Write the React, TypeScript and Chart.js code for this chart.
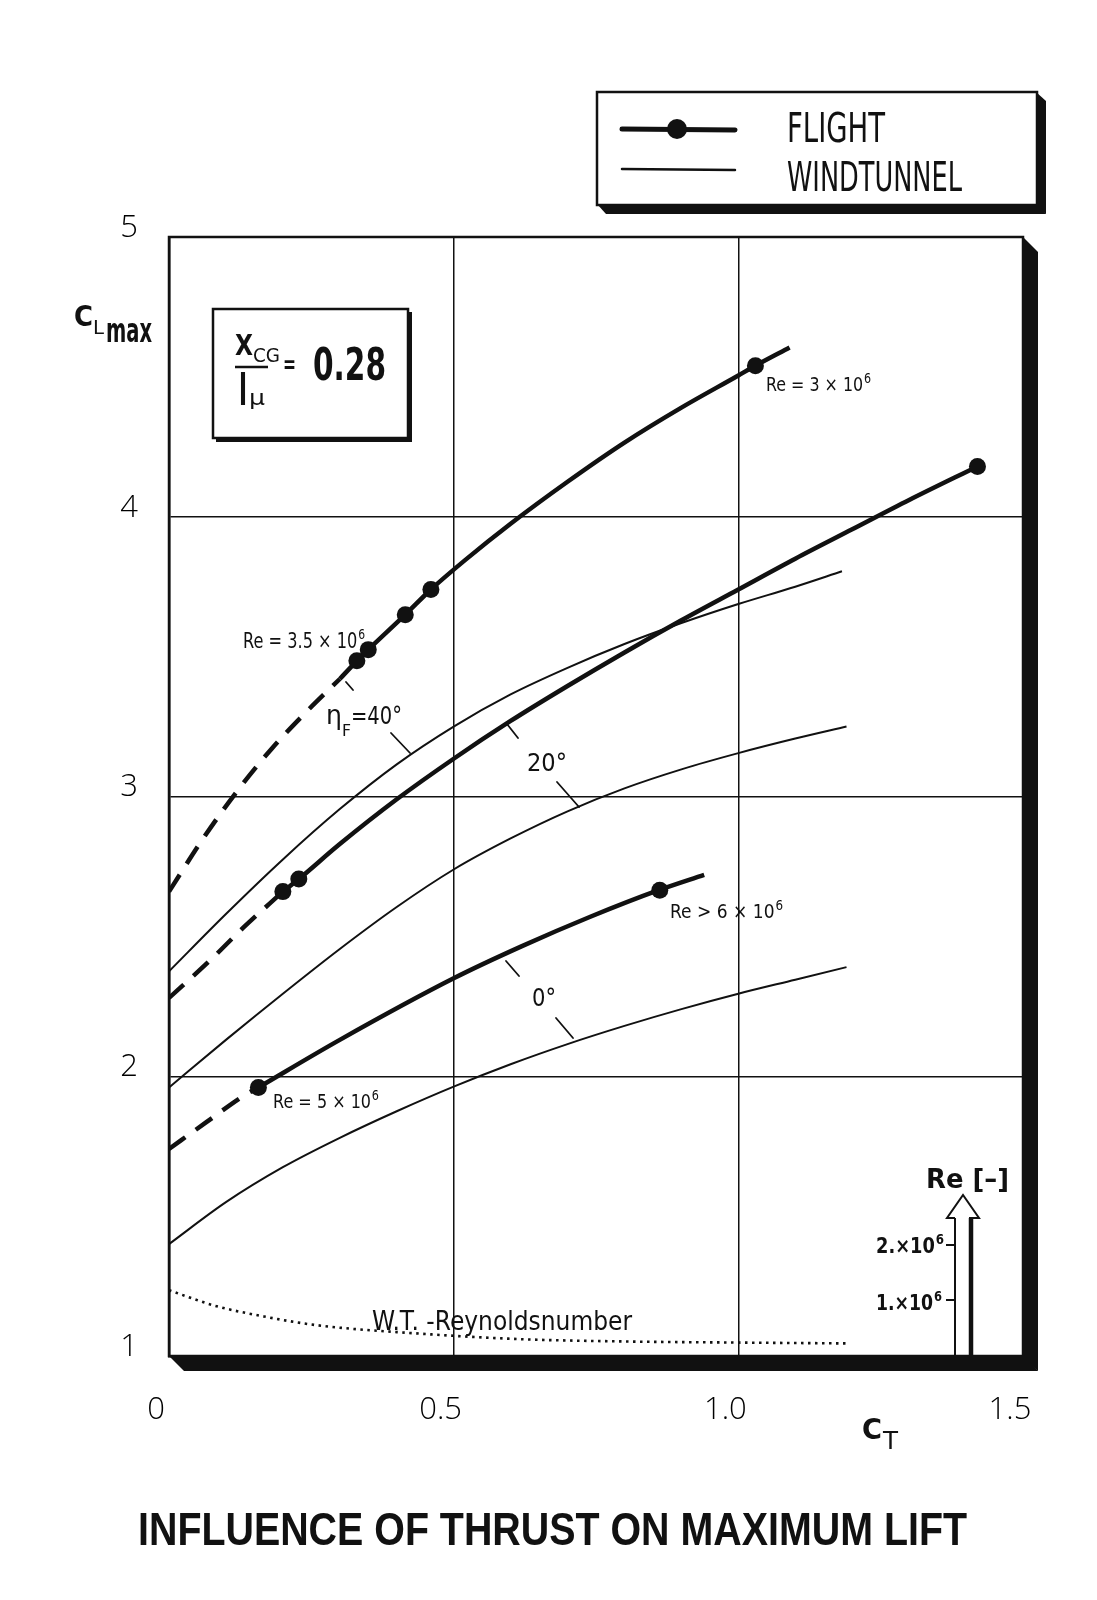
import React, { useEffect, useRef } from 'react';
import { Chart, registerables } from 'chart.js';

Chart.register(...registerables);

// ---------- data ----------
const X_TICKS = [0, 0.5, 1.0, 1.5];
const X_TICK_LABELS = ['0', '0.5', '1.0', '1.5'];
const Y_TICKS = [1, 2, 3, 4, 5];
const Y_TICK_LABELS = ['1', '2', '3', '4', '5'];

// Flight, Re = 3.5e6 -> 3e6 (upper)
const FA_DASH_CT = [0, 0.06, 0.12, 0.18, 0.24, 0.3];
const FA_DASH_CL = [2.66, 2.85, 3.02, 3.17, 3.3, 3.42];
const FA_CT = [0.3, 0.33, 0.35, 0.415, 0.46, 0.52, 0.6, 0.7, 0.8, 0.9, 1.0, 1.03, 1.09];
const FA_CL = [3.42, 3.485, 3.525, 3.65, 3.74, 3.845, 3.975, 4.125, 4.265, 4.39, 4.505, 4.54, 4.605];
const FA_MARK_CT = [0.33, 0.35, 0.415, 0.46, 1.03];
const FA_MARK_CL = [3.485, 3.525, 3.65, 3.74, 4.54];

// Flight (middle, eta_F = 20 deg)
const FB_DASH_CT = [0, 0.07, 0.13, 0.2];
const FB_DASH_CL = [2.28, 2.41, 2.53, 2.66];
const FB_CT = [0.2, 0.228, 0.3, 0.4, 0.5, 0.6, 0.7, 0.8, 0.9, 1.0, 1.1, 1.2, 1.3, 1.42];
const FB_CL = [2.66, 2.705, 2.83, 2.99, 3.135, 3.27, 3.395, 3.515, 3.63, 3.74, 3.85, 3.955, 4.06, 4.18];
const FB_MARK_CT = [0.2, 0.228, 1.42];
const FB_MARK_CL = [2.66, 2.705, 4.18];

// Flight, Re = 5e6 -> >6e6 (lower, eta_F = 0 deg)
const FC_DASH_CT = [0, 0.065, 0.131, 0.157];
const FC_DASH_CL = [1.74, 1.835, 1.93, 1.96];
const FC_CT = [0.157, 0.3, 0.5, 0.62, 0.74, 0.86, 0.94];
const FC_CL = [1.96, 2.13, 2.35, 2.465, 2.57, 2.665, 2.72];
const FC_MARK_CT = [0.157, 0.862];
const FC_MARK_CL = [1.96, 2.665];

// Wind tunnel curves
const WT40_CT = [0, 0.1, 0.2, 0.3, 0.4, 0.5, 0.6, 0.7, 0.8, 0.9, 1.0, 1.1, 1.182];
const WT40_CL = [2.375, 2.58, 2.775, 2.955, 3.115, 3.25, 3.365, 3.46, 3.545, 3.62, 3.688, 3.75, 3.805];
const WT20_CT = [0, 0.1, 0.2, 0.3, 0.4, 0.5, 0.6, 0.7, 0.8, 0.9, 1.0, 1.1, 1.19];
const WT20_CL = [1.96, 2.13, 2.295, 2.455, 2.605, 2.739, 2.85, 2.947, 3.029, 3.097, 3.155, 3.207, 3.25];
const WT0_CT = [0, 0.1, 0.2, 0.3, 0.4, 0.5, 0.6, 0.7, 0.8, 0.9, 1.0, 1.1, 1.19];
const WT0_CL = [1.4, 1.55, 1.675, 1.78, 1.875, 1.963, 2.043, 2.115, 2.18, 2.24, 2.295, 2.345, 2.39];

// W.T. Reynolds number (dotted)
const WTRE_CT = [0, 0.08, 0.17, 0.26, 0.44, 0.62, 0.8, 1.0, 1.19];
const WTRE_CL = [1.235, 1.18, 1.14, 1.11, 1.08, 1.06, 1.052, 1.048, 1.045];

const TITLE = 'INFLUENCE OF THRUST ON MAXIMUM LIFT';
const LEGEND_LABELS = ['FLIGHT', 'WINDTUNNEL'];

// ---------- helpers ----------
const pts = (xs: number[], ys: number[]) => xs.map((x, i) => ({ x, y: ys[i] }));

const SANS = "'DejaVu Sans', 'Liberation Sans', sans-serif";
const ARIAL = "'Liberation Sans', 'DejaVu Sans', sans-serif";

function fitText(ctx: CanvasRenderingContext2D, text: string, x: number, y: number, font: string, width: number) {
  ctx.save();
  ctx.font = font;
  ctx.textBaseline = 'alphabetic';
  ctx.textAlign = 'left';
  const w = ctx.measureText(text).width || 1;
  ctx.translate(x, y);
  ctx.scale(width / w, 1);
  ctx.fillStyle = '#111';
  ctx.fillText(text, 0, 0);
  ctx.restore();
}

function supText(ctx: CanvasRenderingContext2D, main: string, sup: string, x: number, y: number,
  size: number, width: number, weight = 'normal') {
  ctx.save();
  const f1 = `${weight} ${size}px ${SANS}`;
  const f2 = `${weight} ${Math.round(size * 0.68)}px ${SANS}`;
  ctx.font = f1;
  const wm = ctx.measureText(main).width;
  ctx.font = f2;
  const ws = ctx.measureText(sup).width;
  const gap = size * 0.05;
  const s = width / (wm + gap + ws);
  ctx.translate(x, y);
  ctx.scale(s, 1);
  ctx.fillStyle = '#111';
  ctx.textBaseline = 'alphabetic';
  ctx.font = f1;
  ctx.fillText(main, 0, 0);
  ctx.font = f2;
  ctx.fillText(sup, wm + gap, -size * 0.42);
  ctx.restore();
}

// design chart area (pixels) used to place annotations relative to the plot
const D = { left: 169, top: 237, right: 1023, bottom: 1356 };

const decorPlugin = {
  id: 'decor',
  beforeDraw(chart: any) {
    const ctx = chart.ctx as CanvasRenderingContext2D;
    ctx.save();
    ctx.fillStyle = '#fff';
    ctx.fillRect(0, 0, chart.width, chart.height);
    ctx.restore();
  },
  afterDraw(chart: any) {
    const ctx = chart.ctx as CanvasRenderingContext2D;
    const ca = chart.chartArea;
    const sx = (ca.right - ca.left) / (D.right - D.left);
    const sy = (ca.bottom - ca.top) / (D.bottom - D.top);
    const PX = (x: number) => ca.left + (x - D.left) * sx;
    const PY = (y: number) => ca.top + (y - D.top) * sy;
    const line = (x1: number, y1: number, x2: number, y2: number, w: number) => {
      ctx.beginPath();
      ctx.lineWidth = w;
      ctx.moveTo(PX(x1), PY(y1));
      ctx.lineTo(PX(x2), PY(y2));
      ctx.stroke();
    };
    ctx.save();
    ctx.strokeStyle = '#111';
    ctx.fillStyle = '#111';
    ctx.lineCap = 'butt';

    // ---- plot frame with 3D shadow ----
    const L = ca.left, T = ca.top, R = ca.right, B = ca.bottom, sh = 15;
    ctx.lineWidth = 2.5;
    ctx.strokeRect(L, T, R - L, B - T);
    ctx.beginPath();
    ctx.moveTo(R - 1, T - 1); ctx.lineTo(R + sh, T + sh); ctx.lineTo(R + sh, B + sh); ctx.lineTo(R - 1, B + 1);
    ctx.closePath(); ctx.fill();
    ctx.beginPath();
    ctx.moveTo(L - 1, B - 1); ctx.lineTo(L + sh, B + sh); ctx.lineTo(R + sh, B + sh); ctx.lineTo(R + 1, B - 1);
    ctx.closePath(); ctx.fill();

    // ---- leader lines ----
    ctx.lineCap = 'round';
    line(391, 733, 410, 753, 1.8);
    line(346, 682, 353, 690, 1.8);
    line(507, 724, 518, 738, 1.8);
    line(557, 782, 579, 807, 1.8);
    line(506, 961, 519, 976, 1.8);
    line(556, 1018, 573, 1038, 1.8);

    // ---- curve annotations ----
    supText(ctx, 'Re = 3.5 × 10', '6', PX(243), PY(648), 21, 122);
    supText(ctx, 'Re = 3 × 10', '6', PX(766), PY(391), 20, 105);
    supText(ctx, 'Re > 6 × 10', '6', PX(670), PY(918), 20, 113);
    supText(ctx, 'Re = 5 × 10', '6', PX(273), PY(1108), 20, 106);
    fitText(ctx, 'η', PX(326), PY(724), `normal 27px ${SANS}`, 16);
    fitText(ctx, 'F', PX(342), PY(736), `normal 16px ${SANS}`, 9);
    fitText(ctx, '=40°', PX(351), PY(724), `normal 24px ${SANS}`, 51);
    fitText(ctx, '20°', PX(527), PY(771), `normal 25px ${SANS}`, 40);
    fitText(ctx, '0°', PX(532), PY(1006), `normal 25px ${SANS}`, 24);
    fitText(ctx, 'W.T. -Reynoldsnumber', PX(372), PY(1330), `normal 26px ${SANS}`, 260);

    // ---- Re axis (arrow) ----
    ctx.lineCap = 'butt';
    line(955, 1356, 955, 1218, 2);
    line(971, 1356, 971, 1218, 4.5);
    ctx.beginPath();
    ctx.lineWidth = 2;
    ctx.lineJoin = 'miter';
    ctx.moveTo(PX(955), PY(1218));
    ctx.lineTo(PX(947), PY(1218));
    ctx.lineTo(PX(963), PY(1195));
    ctx.lineTo(PX(979), PY(1218));
    ctx.lineTo(PX(969), PY(1218));
    ctx.stroke();
    line(946, 1245, 955, 1245, 2);
    line(946, 1300, 955, 1300, 2);
    supText(ctx, '2.×10', '6', PX(876), PY(1253), 21, 68, 'bold');
    supText(ctx, '1.×10', '6', PX(876), PY(1310), 21, 66, 'bold');
    fitText(ctx, 'Re [–]', PX(926), PY(1188), `bold 27px ${SANS}`, 83);

    // ---- X_CG / l_mu box ----
    const bx1 = PX(213), by1 = PY(309), bx2 = PX(408), by2 = PY(438);
    ctx.fillStyle = '#fff';
    ctx.fillRect(bx1, by1, bx2 - bx1, by2 - by1);
    ctx.fillStyle = '#111';
    ctx.lineWidth = 2.5;
    ctx.strokeRect(bx1, by1, bx2 - bx1, by2 - by1);
    ctx.fillRect(bx2, by1 + 3, 4, by2 - by1 + 1);
    ctx.fillRect(bx1 + 3, by2, bx2 - bx1 + 1, 4);
    fitText(ctx, 'X', PX(235), PY(355), `bold 28px ${SANS}`, 18);
    fitText(ctx, 'CG', PX(253), PY(362), `normal 20px ${SANS}`, 27);
    line(235, 367, 268, 367, 2.5);
    fitText(ctx, 'l', PX(239), PY(405), `bold 42px ${SANS}`, 8);
    fitText(ctx, 'μ', PX(249), PY(405), `normal 22px ${SANS}`, 16);
    fitText(ctx, '=', PX(283), PY(373), `bold 24px ${SANS}`, 13);
    fitText(ctx, '0.28', PX(313), PY(380), `bold 44px ${SANS}`, 73);

    // ---- axis titles ----
    fitText(ctx, 'C', 74, 326, `bold 29px ${SANS}`, 19);
    fitText(ctx, 'L', 93, 334, `normal 19px ${SANS}`, 11);
    fitText(ctx, 'max', 106, 342, `bold 34px ${SANS}`, 46);
    fitText(ctx, 'C', 862, 1439, `bold 29px ${SANS}`, 20);
    fitText(ctx, 'T', 883, 1449, `normal 24px ${SANS}`, 15);

    // ---- legend box ----
    const lx1 = 597, ly1 = 92, lx2 = 1037, ly2 = 205, ls = 9;
    ctx.lineWidth = 2.5;
    ctx.strokeRect(lx1, ly1, lx2 - lx1, ly2 - ly1);
    ctx.beginPath();
    ctx.moveTo(lx2 - 1, ly1); ctx.lineTo(lx2 + ls, ly1 + ls); ctx.lineTo(lx2 + ls, ly2 + ls); ctx.lineTo(lx2 - 1, ly2 + 1);
    ctx.closePath(); ctx.fill();
    ctx.beginPath();
    ctx.moveTo(lx1, ly2 - 1); ctx.lineTo(lx1 + ls, ly2 + ls); ctx.lineTo(lx2 + ls, ly2 + ls); ctx.lineTo(lx2 + 1, ly2 - 1);
    ctx.closePath(); ctx.fill();
    ctx.lineCap = 'round';
    ctx.beginPath(); ctx.lineWidth = 5; ctx.moveTo(622, 129); ctx.lineTo(735, 130); ctx.stroke();
    ctx.beginPath(); ctx.arc(677, 129, 10, 0, Math.PI * 2); ctx.fill();
    ctx.beginPath(); ctx.lineWidth = 2.5; ctx.moveTo(622, 169); ctx.lineTo(735, 170); ctx.stroke();
    fitText(ctx, LEGEND_LABELS[0], 787, 142, `normal 40px ${SANS}`, 98);
    fitText(ctx, LEGEND_LABELS[1], 787, 191, `normal 40px ${SANS}`, 175);

    // ---- title ----
    fitText(ctx, TITLE, 138, 1545, `bold 47px ${ARIAL}`, 829);

    ctx.restore();
  },
};

const TICK_FONT = { family: "'Open Sans', 'DejaVu Sans', sans-serif", size: 31, weight: '300' as any };

function makeConfig(): any {
  const thick = { borderColor: '#111', borderWidth: 4.5, pointRadius: 0, fill: false, cubicInterpolationMode: 'monotone' };
  const dashed = { ...thick, borderDash: [20, 13] };
  const thin = { borderColor: '#111', borderWidth: 2, pointRadius: 0, fill: false, cubicInterpolationMode: 'monotone' };
  const marks = { showLine: false, pointRadius: 8.5, pointBackgroundColor: '#111', pointBorderWidth: 0, borderColor: '#111' };
  return {
    type: 'line',
    data: {
      datasets: [
        { label: 'Flight A marks', data: pts(FA_MARK_CT, FA_MARK_CL), ...marks },
        { label: 'Flight B marks', data: pts(FB_MARK_CT, FB_MARK_CL), ...marks },
        { label: 'Flight C marks', data: pts(FC_MARK_CT, FC_MARK_CL), ...marks },
        { label: 'Flight A', data: pts(FA_CT, FA_CL), ...thick },
        { label: 'Flight A ext', data: pts(FA_DASH_CT, FA_DASH_CL), ...dashed },
        { label: 'Flight B', data: pts(FB_CT, FB_CL), ...thick },
        { label: 'Flight B ext', data: pts(FB_DASH_CT, FB_DASH_CL), ...dashed },
        { label: 'Flight C', data: pts(FC_CT, FC_CL), ...thick },
        { label: 'Flight C ext', data: pts(FC_DASH_CT, FC_DASH_CL), ...dashed },
        { label: 'WT 40', data: pts(WT40_CT, WT40_CL), ...thin },
        { label: 'WT 20', data: pts(WT20_CT, WT20_CL), ...thin },
        { label: 'WT 0', data: pts(WT0_CT, WT0_CL), ...thin },
        { label: 'WT Re', data: pts(WTRE_CT, WTRE_CL), borderColor: '#111', borderWidth: 2.6, borderDash: [2.5, 4.5], pointRadius: 0, fill: false, cubicInterpolationMode: 'monotone' },
      ],
    },
    options: {
      animation: false,
      responsive: false,
      maintainAspectRatio: false,
      layout: { padding: { left: 8, top: 237, right: 74, bottom: 0 } },
      plugins: { legend: { display: false }, tooltip: { enabled: false }, title: { display: false } },
      scales: {
        x: {
          type: 'linear',
          min: X_TICKS[0],
          max: X_TICKS[X_TICKS.length - 1],
          afterFit: (s: any) => { s.height = 244; },
          ticks: {
            stepSize: 0.5,
            padding: 36,
            labelOffset: -13,
            color: '#000',
            font: TICK_FONT,
            callback: (v: number) => {
              const i = X_TICKS.findIndex((t) => Math.abs(t - v) < 1e-6);
              return i >= 0 ? X_TICK_LABELS[i] : '';
            },
          },
          grid: {
            drawTicks: false,
            lineWidth: 1.5,
            color: (c: any) => {
              const v = c.tick ? c.tick.value : 0;
              return v > X_TICKS[0] + 1e-6 && v < X_TICKS[X_TICKS.length - 1] - 1e-6 ? '#111' : 'rgba(0,0,0,0)';
            },
          },
          border: { display: true, color: '#111', width: 2.5 },
        },
        y: {
          type: 'linear',
          min: Y_TICKS[0],
          max: Y_TICKS[Y_TICKS.length - 1],
          afterFit: (s: any) => { s.width = 161; },
          ticks: {
            stepSize: 1,
            padding: 31,
            labelOffset: -9,
            color: '#000',
            font: TICK_FONT,
            callback: (v: number) => {
              const i = Y_TICKS.findIndex((t) => Math.abs(t - v) < 1e-6);
              return i >= 0 ? Y_TICK_LABELS[i] : '';
            },
          },
          grid: {
            drawTicks: false,
            lineWidth: 1.5,
            color: (c: any) => {
              const v = c.tick ? c.tick.value : 0;
              return v > Y_TICKS[0] + 1e-6 && v < Y_TICKS[Y_TICKS.length - 1] - 1e-6 ? '#111' : 'rgba(0,0,0,0)';
            },
          },
          border: { display: true, color: '#111', width: 2.5 },
        },
      },
    },
    plugins: [decorPlugin],
  };
}

export default function App() {
  const ref = useRef<HTMLCanvasElement>(null);
  useEffect(() => {
    if (!ref.current) return;
    const chart = new Chart(ref.current, makeConfig());
    return () => chart.destroy();
  }, []);
  return (
    <div style={{ position: 'absolute', left: 0, top: 0, width: 1097, height: 1600, background: '#fff' }}>
      <canvas ref={ref} width={1097} height={1600} style={{ display: 'block', width: 1097, height: 1600 }} />
    </div>
  );
}
